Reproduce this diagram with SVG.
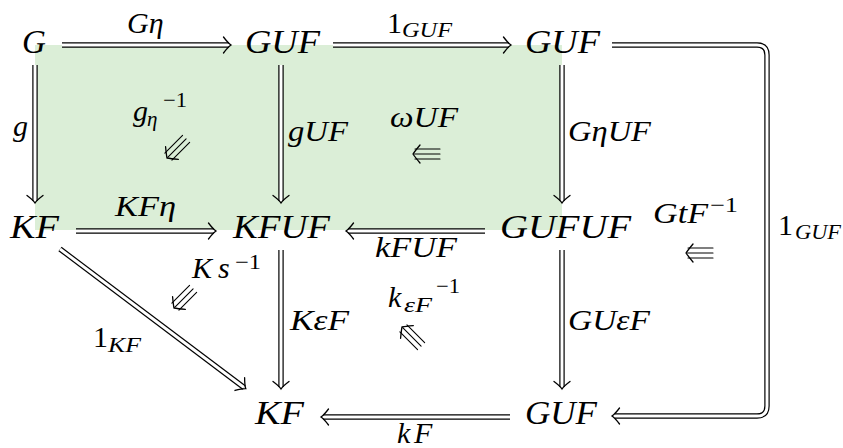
<svg xmlns="http://www.w3.org/2000/svg" xmlns:xlink="http://www.w3.org/1999/xlink" width="843" height="448" viewBox="0 0 843 448">
<defs>
<style>
.n{font-family:"Liberation Serif","DejaVu Serif",serif;font-style:italic;font-size:33px;fill:#000}
.l{font-family:"Liberation Serif","DejaVu Serif",serif;font-style:italic;font-size:30px;fill:#000}
.s{font-family:"Liberation Serif","DejaVu Serif",serif;font-style:italic;font-size:21px;fill:#000}
.u{font-style:normal}
.o{fill:none;stroke:#000;stroke-width:5.4;stroke-linejoin:round}
.i{fill:none;stroke:#fff;stroke-width:3;stroke-linejoin:round}
.h{fill:none;stroke:#000;stroke-width:1.3;stroke-linecap:round}
.t{fill:none;stroke:#000;stroke-width:1.1;stroke-linecap:round}
</style>
<path id="hd" class="h" d="M-6.5,-8 Q-2,-2 1,0 Q-2,2 -6.5,8"/>
<g id="tri">
<path class="t" d="M2,-5 H27 M1,0 H27 M2,5 H27"/>
<path class="h" d="M7,-9 Q2,-3 0,0 Q2,3 7,9"/>
</g>
</defs>
<rect width="843" height="448" fill="#fff"/>
<rect id="region" x="35" y="45" width="527" height="185" fill="#dbeed7"/>
<g id="connectors">
<g id="e1"><path class="o" d="M62,45 H229"/><path class="i" d="M62,45 H229"/><use xlink:href="#hd" transform="translate(230,45)"/></g>
<g id="e2"><path class="o" d="M333,45 H509"/><path class="i" d="M333,45 H509"/><use xlink:href="#hd" transform="translate(510,45)"/></g>
<g id="e3"><path class="o" d="M612,45 H757 Q767,45 767,55 V406 Q767,416 757,416 H615"/><path class="i" d="M612,45 H757 Q767,45 767,55 V406 Q767,416 757,416 H615"/><use xlink:href="#hd" transform="translate(613,416) rotate(180)"/></g>
<g id="e4"><path class="o" d="M35,65 V201"/><path class="i" d="M35,65 V201"/><use xlink:href="#hd" transform="translate(35,202) rotate(90)"/></g>
<g id="e5"><path class="o" d="M281,65 V201"/><path class="i" d="M281,65 V201"/><use xlink:href="#hd" transform="translate(281,202) rotate(90)"/></g>
<g id="e6"><path class="o" d="M562,65 V201"/><path class="i" d="M562,65 V201"/><use xlink:href="#hd" transform="translate(562,202) rotate(90)"/></g>
<g id="e7"><path class="o" d="M76,231 H214"/><path class="i" d="M76,231 H214"/><use xlink:href="#hd" transform="translate(215,231)"/></g>
<g id="e8"><path class="o" d="M485,231 H348"/><path class="i" d="M485,231 H348"/><use xlink:href="#hd" transform="translate(347,231) rotate(180)"/></g>
<g id="e9"><path class="o" d="M60,249 L244,387.5"/><path class="i" d="M60,249 L244,387.5"/><use xlink:href="#hd" transform="translate(245,388) rotate(37)"/></g>
<g id="e10"><path class="o" d="M281,250 V387"/><path class="i" d="M281,250 V387"/><use xlink:href="#hd" transform="translate(281,388) rotate(90)"/></g>
<g id="e11"><path class="o" d="M562,250 V387"/><path class="i" d="M562,250 V387"/><use xlink:href="#hd" transform="translate(562,388) rotate(90)"/></g>
<g id="e12"><path class="o" d="M510,417 H323"/><path class="i" d="M510,417 H323"/><use xlink:href="#hd" transform="translate(322,417) rotate(180)"/></g>
<g id="t1"><use xlink:href="#tri" transform="translate(167,158) rotate(-45)"/></g>
<g id="t2"><use xlink:href="#tri" transform="translate(413,154)"/></g>
<g id="t3"><use xlink:href="#tri" transform="translate(686,253)"/></g>
<g id="t4"><use xlink:href="#tri" transform="translate(174,308) rotate(-45)"/></g>
<g id="t5"><use xlink:href="#tri" transform="translate(402,327) rotate(45)"/></g>
</g>
<g id="labels">
<text class="l" x="127" y="33">Gη</text>
<text class="l u" x="387" y="33">1</text><text class="s" x="402" y="37" textLength="50" lengthAdjust="spacingAndGlyphs">GUF</text>
<text class="l" x="13" y="136">g</text>
<text class="l" x="133" y="121">g</text><text class="s" x="147" y="126">η</text><text class="s u" x="163" y="107" textLength="24" lengthAdjust="spacingAndGlyphs">−1</text>
<text class="l" x="288" y="141" textLength="60" lengthAdjust="spacingAndGlyphs">gUF</text>
<text class="l" x="390" y="127" textLength="68" lengthAdjust="spacingAndGlyphs">ωUF</text>
<text class="l" x="568" y="141" textLength="83" lengthAdjust="spacingAndGlyphs">GηUF</text>
<text class="l" x="653" y="223" textLength="55" lengthAdjust="spacingAndGlyphs">GtF</text><text class="s u" x="710" y="212" textLength="28" lengthAdjust="spacingAndGlyphs">−1</text>
<text class="l u" x="778" y="235">1</text><text class="s" x="795" y="239" textLength="46" lengthAdjust="spacingAndGlyphs">GUF</text>
<text class="l" x="115" y="216" textLength="61" lengthAdjust="spacingAndGlyphs">KFη</text>
<text class="l" x="375" y="257" textLength="82" lengthAdjust="spacingAndGlyphs">kFUF</text>
<text class="l" x="192" y="278">K</text><text class="l" x="218" y="278">s</text><text class="s u" x="235" y="269" textLength="26" lengthAdjust="spacingAndGlyphs">−1</text>
<text class="l" x="290" y="330" textLength="59" lengthAdjust="spacingAndGlyphs">KεF</text>
<text class="l u" x="93" y="347">1</text><text class="s" x="108" y="352" textLength="33" lengthAdjust="spacingAndGlyphs">KF</text>
<text class="l" x="388" y="307">k</text><text class="s" x="404" y="312" textLength="28" lengthAdjust="spacingAndGlyphs">εF</text><text class="s u" x="436" y="293" textLength="24" lengthAdjust="spacingAndGlyphs">−1</text>
<text class="l" x="568" y="330" textLength="82" lengthAdjust="spacingAndGlyphs">GUεF</text>
<text class="l" x="397" y="443">k</text><text class="l" x="414" y="443">F</text>
</g>
<g id="n1"><text class="n" x="22" y="53">G</text></g>
<g id="n2"><text class="n" x="245" y="53" textLength="75" lengthAdjust="spacingAndGlyphs">GUF</text></g>
<g id="n3"><text class="n" x="525" y="53" textLength="75" lengthAdjust="spacingAndGlyphs">GUF</text></g>
<g id="n4"><text class="n" x="10" y="238" textLength="49" lengthAdjust="spacingAndGlyphs">KF</text></g>
<g id="n5"><text class="n" x="233" y="238" textLength="97" lengthAdjust="spacingAndGlyphs">KFUF</text></g>
<g id="n6"><text class="n" x="500" y="238" textLength="131" lengthAdjust="spacingAndGlyphs">GUFUF</text></g>
<g id="n7"><text class="n" x="255" y="424" textLength="49" lengthAdjust="spacingAndGlyphs">KF</text></g>
<g id="n8"><text class="n" x="525" y="424" textLength="72" lengthAdjust="spacingAndGlyphs">GUF</text></g>
</svg>
